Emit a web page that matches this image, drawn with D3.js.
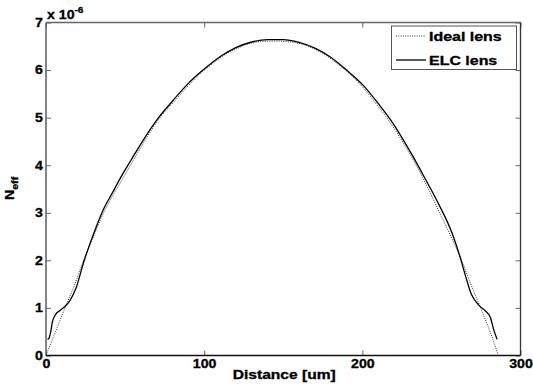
<!DOCTYPE html>
<html><head><meta charset="utf-8">
<script src="https://cdn.jsdelivr.net/npm/d3@7"></script>
<style>body{margin:0;background:#fff}svg{display:block}text{font-family:"Liberation Sans",Arial,sans-serif;font-weight:bold;fill:#000;stroke:#000;stroke-width:0.3px}</style>
</head><body><svg id="c" width="533" height="387"></svg>
<script>
// Data (Neff in units of 1e-6, distance in um)
const idealDist = [0,6,12,18,24,30,36,42,48,56,64,72,80,88,96,104,112,120,128,136,144,152,160,168,176,184,192,200,208,216,224,232,240,248,256,263,268,275,281,286];
const idealVal  = [0,0.5,1.0,1.48,2.02,2.5,2.97,3.35,3.69,4.15,4.6,5.0,5.3,5.6,5.88,6.1,6.3,6.44,6.55,6.6,6.61,6.6,6.56,6.47,6.33,6.14,5.92,5.65,5.32,4.97,4.57,4.12,3.62,3.06,2.5,1.98,1.55,0.98,0.48,0];
const elcDist = [1,2,3,4,6,9,12,15,19,24,30,36,42,47,54,60,70,80,90,100,110,120,130,140,150,160,170,180,190,200,210,220,230,240,248,257,262,265,269,273.6,278,281,283,285.2];
const elcVal  = [0.34,0.37,0.5,0.7,0.86,0.95,1.03,1.15,1.42,1.98,2.55,3.05,3.42,3.73,4.12,4.45,4.95,5.35,5.72,6.02,6.28,6.47,6.59,6.64,6.64,6.58,6.46,6.27,6.0,5.7,5.3,4.85,4.3,3.7,3.2,2.55,2.05,1.7,1.28,1.06,0.93,0.8,0.55,0.34];
const xTicks = [0,100,200,300];
const yTicks = [0,1,2,3,4,5,6,7];
const legendLabels = ["Ideal lens","ELC lens"];

const svg = d3.select("#c");
const L=46, R=520.5, T=22.5, B=355.5;
const x = d3.scaleLinear().domain([0,300]).range([L,R]);
const y = d3.scaleLinear().domain([0,7]).range([B,T]);
const FS = 12, SX = 1.18;

function styleTicks(g){
  g.select(".domain").remove();
  g.selectAll(".tick line").attr("stroke","#666").attr("stroke-width",1);
}
function styleText(sel){
  sel.attr("font-size",FS).attr("transform",`scale(${SX},1)`)
     .attr("font-family","Liberation Sans, Arial, sans-serif").attr("font-weight","bold").attr("fill","#000");
}
// bottom axis
const gb = svg.append("g").attr("transform",`translate(0,${B})`)
  .call(d3.axisBottom(x).tickValues(xTicks).tickSizeInner(-5).tickSizeOuter(0).tickPadding(4).tickFormat(d3.format("d")));
styleTicks(gb);
styleText(gb.selectAll(".tick text"));
// top axis ticks
const gt = svg.append("g").attr("transform",`translate(0,${T})`)
  .call(d3.axisTop(x).tickValues(xTicks).tickSizeInner(-5).tickSizeOuter(0).tickFormat(""));
styleTicks(gt);
// left axis
const gl = svg.append("g").attr("transform",`translate(${L},0)`)
  .call(d3.axisLeft(y).tickValues(yTicks).tickSizeInner(-5).tickSizeOuter(0).tickPadding(2.6).tickFormat(d3.format("d")));
styleTicks(gl);
styleText(gl.selectAll(".tick text"));
// right axis ticks
const gr = svg.append("g").attr("transform",`translate(${R},0)`)
  .call(d3.axisRight(y).tickValues(yTicks).tickSizeInner(-5).tickSizeOuter(0).tickFormat(""));
styleTicks(gr);

// frame
svg.append("line").attr("x1",L).attr("x2",R).attr("y1",T).attr("y2",T).attr("stroke","#666").attr("stroke-width",1.3);
svg.append("line").attr("x1",L).attr("x2",L).attr("y1",T).attr("y2",B).attr("stroke","#666").attr("stroke-width",1.6);
svg.append("line").attr("x1",R).attr("x2",R).attr("y1",T).attr("y2",B).attr("stroke","#333").attr("stroke-width",1.3);
svg.append("line").attr("x1",L).attr("x2",R).attr("y1",B).attr("y2",B).attr("stroke","#111").attr("stroke-width",1.5);

// lines
const line = d3.line().x(d=>x(d[0])).y(d=>y(d[1])).curve(d3.curveMonotoneX);
svg.append("path").datum(idealDist.map((d,i)=>[d,idealVal[i]]))
  .attr("d",line).attr("fill","none").attr("stroke","#333").attr("stroke-width",1).attr("stroke-dasharray","1,1.3");
svg.append("path").datum(elcDist.map((d,i)=>[d,elcVal[i]]))
  .attr("d",line).attr("fill","none").attr("stroke","#000").attr("stroke-width",1.3);

// exponent label
const ex = svg.append("text").attr("transform",`translate(47,18.5) scale(${SX},1)`).attr("font-size",FS);
ex.append("tspan").text("x 10");
ex.append("tspan").attr("font-size",8.5).attr("dy",-6).text("-6");

// y label
const yl = svg.append("text").attr("transform",`translate(14,200) rotate(-90) scale(${SX},1)`).attr("font-size",FS);
yl.append("tspan").text("N");
yl.append("tspan").attr("font-size",9).attr("dy",4).text("eff");

// x label
svg.append("text").attr("transform",`translate(${(L+R)/2+1},378.5) scale(1.3,1)`).attr("text-anchor","middle").attr("font-size",FS).text("Distance [um]");

// legend
const lg = svg.append("g");
lg.append("rect").attr("x",391.5).attr("y",26).attr("width",125).attr("height",43.5).attr("fill","#fff").attr("stroke","#555").attr("stroke-width",1);
const lyS=[36,60];
lg.append("line").attr("x1",396).attr("x2",426).attr("y1",lyS[0]).attr("y2",lyS[0]).attr("stroke","#333").attr("stroke-width",1).attr("stroke-dasharray","1,1.3");
lg.append("line").attr("x1",396).attr("x2",426).attr("y1",lyS[1]).attr("y2",lyS[1]).attr("stroke","#000").attr("stroke-width",1.3);
legendLabels.forEach((t,i)=>{
  lg.append("text").attr("transform",`translate(429,${lyS[i]+4.5}) scale(1.33,1)`).attr("font-size",FS).text(t);
});
</script></body></html>
